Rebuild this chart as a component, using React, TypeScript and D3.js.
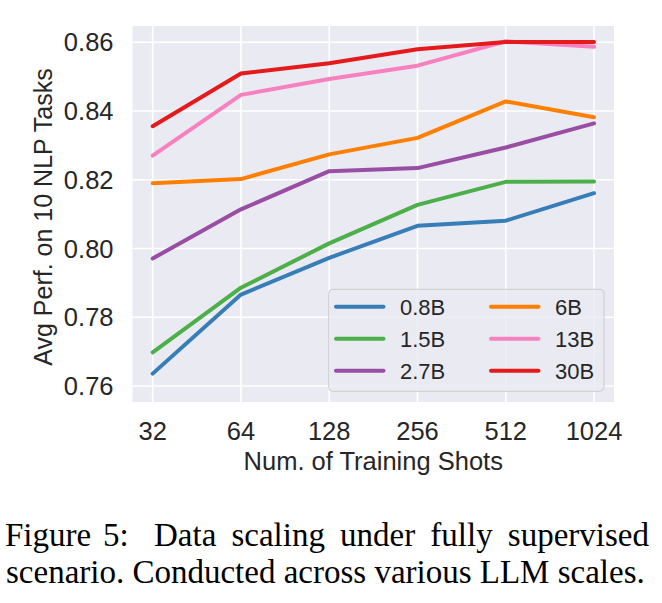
import React from "react";
import * as d3 from "d3";

const shots = [32, 64, 128, 256, 512, 1024];
const seriesNames = ["0.8B", "1.5B", "2.7B", "6B", "13B", "30B"];
const v08 = [0.7636, 0.7866, 0.7973, 0.8066, 0.8081, 0.8161];
const v15 = [0.7698, 0.7886, 0.8015, 0.8127, 0.8194, 0.8195];
const v27 = [0.7971, 0.8114, 0.8225, 0.8234, 0.8294, 0.8364];
const v6 = [0.819, 0.8202, 0.8274, 0.8322, 0.8428, 0.8382];
const v13 = [0.827, 0.8447, 0.8493, 0.8532, 0.8603, 0.8587];
const v30 = [0.8356, 0.8509, 0.8539, 0.858, 0.8601, 0.8601];
const seriesValues = [v08, v15, v27, v6, v13, v30];
const colors = ["#377eb8", "#4daf4a", "#984ea3", "#ff7f00", "#f781bf", "#e41a1c"];
const yTicks = [0.76, 0.78, 0.8, 0.82, 0.84, 0.86];
const xLabel = "Num. of Training Shots";
const yLabel = "Avg Perf. on 10 NLP Tasks";
const caption1a = "Figure 5:";
const caption1b = "Data scaling under fully supervised";
const caption2 = "scenario. Conducted across various LLM scales.";

const W = 662;
const H = 603;
const plot = { left: 132.5, right: 614, top: 26, bottom: 402 };
const sans = "Arial, 'Liberation Sans', Helvetica, sans-serif";
const serif = "'Times New Roman', 'Liberation Serif', Times, serif";

export default function App() {
  const x = d3.scaleLog().base(2).domain([32, 1024]).range([152.7, 594]);
  const y = d3.scaleLinear().domain([0.76, 0.86]).range([386, 42.3]);
  const line = d3
    .line<number>()
    .x((_, i) => x(shots[i]))
    .y((d) => y(d));

  const legendOrder = [0, 1, 2, 3, 4, 5];
  const legendX0 = 328.7;
  const legendY0 = 289.3;

  return (
    <svg
      width={W}
      height={H}
      viewBox={`0 0 ${W} ${H}`}
      style={{ position: "absolute", left: 0, top: 0, background: "#fff" }}
    >
      <rect x={0} y={0} width={W} height={H} fill="#ffffff" />
      <rect
        x={plot.left}
        y={plot.top}
        width={plot.right - plot.left}
        height={plot.bottom - plot.top}
        fill="#eaeaf2"
      />
      {shots.map((s) => (
        <line
          key={"gx" + s}
          x1={x(s)}
          x2={x(s)}
          y1={plot.top}
          y2={plot.bottom}
          stroke="#ffffff"
          strokeWidth={1.6}
        />
      ))}
      {yTicks.map((t) => (
        <line
          key={"gy" + t}
          x1={plot.left}
          x2={plot.right}
          y1={y(t)}
          y2={y(t)}
          stroke="#ffffff"
          strokeWidth={1.6}
        />
      ))}
      {seriesValues.map((vals, i) => (
        <path
          key={seriesNames[i]}
          d={line(vals) || ""}
          fill="none"
          stroke={colors[i]}
          strokeWidth={4}
          strokeLinejoin="round"
          strokeLinecap="round"
        />
      ))}
      {yTicks.map((t) => (
        <text
          key={"ty" + t}
          x={113.5}
          y={y(t)}
          dy="0.36em"
          textAnchor="end"
          fontFamily={sans}
          fontSize={25.5}
          fill="#262626"
        >
          {d3.format(".2f")(t)}
        </text>
      ))}
      {shots.map((s) => (
        <text
          key={"tx" + s}
          x={x(s)}
          y={440}
          textAnchor="middle"
          fontFamily={sans}
          fontSize={25.5}
          fill="#262626"
        >
          {s}
        </text>
      ))}
      <text
        x={(plot.left + plot.right) / 2}
        y={470}
        textAnchor="middle"
        fontFamily={sans}
        fontSize={25.5}
        fill="#262626"
      >
        {xLabel}
      </text>
      <text
        transform={`translate(52,${(plot.top + plot.bottom) / 2 + 3}) rotate(-90)`}
        textAnchor="middle"
        fontFamily={sans}
        fontSize={25}
        fill="#262626"
      >
        {yLabel}
      </text>
      <g>
        <rect
          x={legendX0}
          y={legendY0}
          width={604 - legendX0}
          height={391.3 - legendY0}
          rx={4}
          fill="#eaeaf2"
          fillOpacity={0.8}
          stroke="#cccccc"
          strokeWidth={1}
        />
        {legendOrder.map((idx) => {
          const col = Math.floor(idx / 3);
          const row = idx % 3;
          const lx = col === 0 ? 336 : 491;
          const ly = 306.7 + row * 32;
          return (
            <g key={"lg" + idx}>
              <line
                x1={lx}
                x2={lx + 47.5}
                y1={ly}
                y2={ly}
                stroke={colors[idx]}
                strokeWidth={4}
                strokeLinecap="round"
              />
              <text
                x={lx + 64}
                y={ly}
                dy="0.36em"
                fontFamily={sans}
                fontSize={22}
                fill="#262626"
              >
                {seriesNames[idx]}
              </text>
            </g>
          );
        })}
      </g>
      <text x={5} y={546} fontFamily={serif} fontSize={33} fill="#000" wordSpacing={3.5}>
        {caption1a}
      </text>
      <text x={154} y={546} fontFamily={serif} fontSize={33} fill="#000" wordSpacing={6.9}>
        {caption1b}
      </text>
      <text x={6} y={582.5} fontFamily={serif} fontSize={33} fill="#000">
        {caption2}
      </text>
    </svg>
  );
}
